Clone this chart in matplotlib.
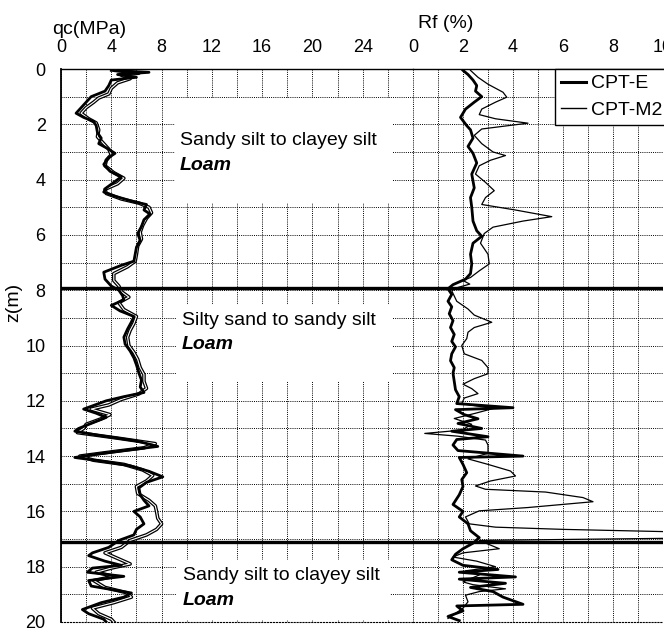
import matplotlib
matplotlib.use('Agg')
import matplotlib.pyplot as plt
import matplotlib.patheffects as pe
from matplotlib.patches import Rectangle
from matplotlib.lines import Line2D
import numpy as np

plt.rcParams['font.family'] = ['Liberation Sans', 'DejaVu Sans']

# cone resistance qc (MPa) vs depth z (m)
qc_e_z = [0.05, 0.12, 0.2, 0.3, 0.4, 0.6, 0.8, 1.0, 1.2, 1.45, 1.6, 1.75, 1.9, 2.05, 2.3, 2.5, 2.7,
          2.85, 3.05, 3.2, 3.45, 3.7, 3.9, 4.1, 4.3, 4.45, 4.6, 4.8, 4.9, 5.1, 5.25, 5.45, 5.7, 5.95,
          6.2, 6.45, 6.7, 6.95, 7.1, 7.35, 7.6, 7.85, 8.0, 8.2, 8.35, 8.55, 8.75, 8.95, 9.15, 9.4,
          9.7, 9.95, 10.2, 10.45, 10.7, 11.0, 11.25, 11.5, 11.7, 11.85, 12.0, 12.3, 12.45, 12.6,
          12.8, 13.0, 13.1, 13.25, 13.45, 13.65, 13.8, 13.95, 14.05, 14.2, 14.35, 14.55, 14.75,
          14.95, 15.15, 15.4, 15.6, 15.8, 16.0, 16.2, 16.45, 16.65, 16.85, 17.05, 17.3, 17.5, 17.6,
          17.8, 17.95, 18.05, 18.2, 18.35, 18.5, 18.7, 18.95, 19.1, 19.3, 19.55, 19.7, 19.9, 20.0]
qc_e = [4.0, 7.0, 4.5, 6.0, 4.0, 3.8, 3.5, 2.4, 2.0, 1.5, 1.2, 1.8, 2.6, 2.8, 2.9, 3.2, 3.0,
        3.6, 4.3, 3.8, 3.4, 3.9, 4.8, 4.2, 3.6, 3.4, 4.3, 5.8, 6.8, 6.6, 7.1, 6.6, 6.4, 6.1,
        6.3, 6.0, 5.9, 5.8, 4.8, 3.4, 3.5, 4.0, 4.6, 4.9, 5.0, 4.0, 4.7, 5.8, 5.6, 5.3,
        5.0, 5.1, 5.5, 5.8, 6.0, 6.2, 6.4, 6.3, 6.6, 5.0, 3.6, 1.8, 2.8, 3.6,
        2.5, 1.4, 1.1, 3.0, 6.0, 7.7, 5.0, 2.5, 1.1, 3.5, 5.5, 7.0, 8.1,
        6.8, 6.2, 6.3, 6.6, 7.0, 5.8, 6.3, 6.6, 6.0, 5.8, 4.6, 3.8, 2.5, 2.2,
        3.5, 4.8, 2.5, 2.1, 5.0, 2.2, 2.4, 5.6, 5.0, 3.2, 1.7, 2.2, 3.4, 3.6]

qc_m2_z = [0.05, 0.15, 0.22, 0.35, 0.5, 0.7, 0.9, 1.05, 1.2, 1.4, 1.6, 1.8, 1.95, 2.2, 2.45, 2.65,
           2.9, 3.1, 3.3, 3.5, 3.75, 3.95, 4.15, 4.35, 4.5, 4.7, 4.85, 5.0, 5.2, 5.4, 5.65, 5.9,
           6.15, 6.4, 6.7, 6.95, 7.15, 7.4, 7.65, 7.85, 8.05, 8.25, 8.45, 8.7, 8.95, 9.2, 9.45,
           9.7, 10.0, 10.25, 10.5, 10.8, 11.05, 11.3, 11.55, 11.75, 11.95, 12.15, 12.3, 12.5,
           12.65, 12.85, 13.0, 13.15, 13.35, 13.55, 13.7, 13.85, 14.0, 14.15, 14.3, 14.5, 14.7,
           14.9, 15.1, 15.35, 15.6, 15.8, 16.0, 16.25, 16.45, 16.65, 16.85, 17.05, 17.3, 17.5,
           17.7, 17.9, 18.05, 18.2, 18.35, 18.5, 18.75, 18.95, 19.1, 19.3, 19.5, 19.7, 19.9, 20.0]
qc_m2 = [4.3, 6.2, 4.8, 5.5, 4.5, 4.0, 3.8, 3.0, 2.6, 2.0, 1.6, 2.2, 2.8, 3.0, 2.9, 3.3,
         3.8, 4.0, 3.6, 3.5, 4.2, 5.0, 4.5, 3.5, 3.6, 4.8, 6.2, 7.0, 7.2, 6.8, 6.5, 6.3,
         6.4, 6.1, 6.0, 5.9, 5.3, 4.2, 4.2, 4.6, 4.8, 5.4, 4.6, 5.0, 6.0, 5.8, 5.5,
         5.3, 5.4, 5.8, 6.1, 6.3, 6.6, 6.6, 6.8, 6.2, 4.8, 3.8, 2.4, 3.9,
         3.2, 2.0, 1.8, 1.3, 4.5, 7.5, 6.6, 4.0, 1.5, 2.6, 5.0, 6.5, 7.3,
         6.8, 6.0, 6.1, 7.0, 7.5, 7.6, 7.7, 8.0, 7.6, 6.8, 5.5, 4.8, 3.5,
         4.5, 5.5, 4.0, 2.8, 4.2, 2.6, 3.5, 5.3, 5.6, 4.2, 2.5, 3.0, 4.0, 4.2]

# friction ratio Rf (%) vs depth z (m)
rf_e_z = [0.05, 0.2, 0.4, 0.6, 0.8, 1.0, 1.2, 1.45, 1.75, 2.05, 2.2, 2.5, 2.8, 3.05, 3.4, 3.8,
          4.3, 4.65, 5.0, 5.5, 5.85, 6.05, 6.3, 6.7, 7.05, 7.4, 7.6, 7.8, 7.95, 8.15, 8.4, 8.6,
          8.85, 9.1, 9.35, 9.6, 9.85, 10.05, 10.3, 10.55, 10.8, 11.0, 11.3, 11.6, 11.85, 12.1,
          12.25, 12.32, 12.5, 12.65, 12.82, 13.0, 13.1, 13.3, 13.4, 13.6, 13.8, 14.0, 14.05,
          14.3, 14.6, 14.85, 15.1, 15.4, 15.75, 16.0, 16.2, 16.45, 16.7, 16.95, 17.15, 17.35,
          17.55, 17.75, 17.95, 18.1, 18.2, 18.37, 18.45, 18.6, 18.75, 18.9, 19.1, 19.36, 19.42,
          19.6, 19.8, 19.95]
rf_e = [2.0, 2.2, 2.4, 2.55, 2.5, 2.75, 2.45, 2.1, 1.9, 2.15, 2.3, 2.4, 2.2, 2.4, 2.55, 2.35,
        2.45, 2.3, 2.35, 2.4, 2.55, 2.75, 2.4, 2.3, 2.35, 2.3, 2.1, 1.6, 1.4, 1.55, 1.4, 1.55,
        1.45, 1.6, 1.5, 1.65, 1.55, 1.7, 1.55, 1.5, 1.65, 1.6, 1.65, 1.7, 1.85, 1.75,
        4.0, 1.7, 2.05, 2.6, 1.8, 2.75, 1.55, 3.0, 1.75, 1.6, 1.8, 4.4, 1.85,
        2.0, 2.15, 1.95, 2.0, 1.85, 1.6, 2.0, 1.85, 2.2, 2.3, 2.65, 2.4, 2.0,
        1.7, 1.55, 2.0, 3.4, 1.85, 4.1, 1.85, 3.7, 2.3, 3.2, 3.6, 4.4, 1.75,
        2.0, 1.4, 1.85]

rf_m2_z = [0.05, 0.3, 0.55, 0.84, 1.02, 1.2, 1.45, 1.65, 1.8, 1.96, 2.05, 2.17, 2.4, 2.7, 3.0,
           3.13, 3.3, 3.5, 3.8, 4.1, 4.4, 4.65, 4.9, 5.1, 5.34, 5.5, 5.72, 5.95, 6.3, 6.7, 7.05,
           7.3, 7.54, 7.65, 7.78, 7.9, 8.02, 8.4, 8.68, 8.9, 9.16, 9.35, 9.52, 9.75, 10.0, 10.3,
           10.54, 10.8, 11.02, 11.2, 11.4, 11.56, 11.74, 11.9, 12.1, 12.28, 12.45, 12.64, 12.85,
           13.06, 13.18, 13.28, 13.42, 13.6, 13.9, 14.1, 14.3, 14.54, 14.72, 14.9, 15.08, 15.2,
           15.3, 15.5, 15.65, 15.86, 15.98, 16.2, 16.45, 16.57, 16.65, 16.74, 16.97, 17.05,
           17.35, 17.5, 17.65, 17.8, 18.0, 18.15, 18.3, 18.55, 18.65, 18.8, 18.9, 19.03, 19.27,
           19.5, 19.75, 19.87]
rf_m2 = [2.3, 2.6, 3.0, 3.6, 3.75, 3.3, 2.75, 2.65, 3.3, 4.6, 3.8, 2.75, 2.45, 2.75, 3.2,
         3.7, 3.1, 2.65, 2.5, 2.9, 3.25, 2.9, 2.75, 4.1, 5.55, 4.4, 3.2, 2.85, 2.7, 3.0, 3.05,
         2.65, 2.3, 2.0, 2.27, 1.8, 1.55, 1.75, 2.2, 2.45, 3.15, 2.45, 2.2, 2.15, 1.95, 2.05,
         2.75, 3.0, 3.0, 2.45, 2.0, 2.35, 2.6, 2.05, 1.95, 3.2, 2.5, 1.65, 2.35,
         1.95, 0.47, 1.8, 2.9, 3.0, 3.0, 2.2, 3.0, 3.9, 4.1, 3.1, 2.5, 2.9,
         5.3, 6.8, 7.2, 4.6, 2.65, 2.1, 2.25, 3.3, 6.0, 10.5, 10.5, 2.65,
         3.45, 2.0, 1.6, 2.55, 3.3, 2.1, 2.65, 2.0, 2.4, 3.7, 2.65, 2.1, 2.2,
         2.0, 1.6, 1.4]

# soil layer boundaries (m)
layer_z = [7.93, 17.12]

fig = plt.figure(figsize=(6.64, 6.33), dpi=100)
ax1 = fig.add_axes([61/664, 11/633, 352/664, 553/633])
ax2 = fig.add_axes([413/664, 11/633, 250/664, 553/633], sharey=ax1)

grid_ls = (0, (1, 1.2))
for ax in (ax1, ax2):
    ax.set_axisbelow(True)
    ax.grid(which='both', ls=grid_ls, color='k', lw=0.7)
    ax.tick_params(which='both', top=True, bottom=False, labeltop=True, labelbottom=False,
                   left=False, right=False, length=0, pad=9, labelsize=13)
    ax.spines['top'].set_linewidth(1.0)
    ax.spines['bottom'].set_linestyle(':')
    ax.spines['bottom'].set_linewidth(0.8)
    ax.spines['right'].set_visible(False)

ax1.set_xlim(0, 28)
ax1.set_xticks(np.arange(0, 25, 4))
ax1.set_xticks(np.arange(0, 29, 2), minor=True)
ax1.set_ylim(20, 0)
ax1.set_yticks(np.arange(0, 21, 2))
ax1.set_yticks(np.arange(0, 21, 1), minor=True)
ax1.tick_params(axis='y', labelleft=True, pad=11)
ax1.spines['left'].set_linewidth(1.3)

ax2.set_xlim(0, 10)
ax2.set_xticks(np.arange(0, 11, 2))
ax2.set_xticks(np.arange(0, 11, 1), minor=True)
ax2.tick_params(axis='y', labelleft=False)
ax2.spines['left'].set_visible(False)

# qc profiles
ax1.plot(qc_m2, qc_m2_z, color='white', lw=0.8, zorder=3,
         path_effects=[pe.Stroke(linewidth=2.6, foreground='k'), pe.Normal()])
ax1.plot(qc_e, qc_e_z, color='k', lw=2.0, zorder=3)

# Rf profiles
ax2.plot(rf_e, rf_e_z, color='k', lw=2.0, zorder=3)
ax2.plot(rf_m2, rf_m2_z, color='k', lw=0.9, zorder=3)

for z in layer_z:
    ax1.axhline(z, color='k', lw=2.4, zorder=4)
    ax2.axhline(z, color='k', lw=2.4, zorder=4)

# white boxes behind layer descriptions
for (x0, z0, x1, z1) in [(9.1, 1.05, 26.4, 4.85), (9.2, 8.55, 26.4, 11.3), (9.2, 17.75, 26.2, 19.93)]:
    ax1.add_patch(Rectangle((x0, z0), x1 - x0, z1 - z0, facecolor='white',
                            edgecolor='none', zorder=2))

for (x, z, name) in [(9.47, 2.6, 'Sandy silt to clayey silt'),
                     (9.6, 9.1, 'Silty sand to sandy silt'),
                     (9.7, 18.33, 'Sandy silt to clayey silt')]:
    ax1.text(x, z, name, fontsize=14, ha='left', va='center', zorder=5)
    ax1.text(x, z + 0.88, 'Loam', fontsize=14, fontweight='bold', style='italic',
             ha='left', va='center', zorder=5)

fig.text(52/664, 1 - 29/633, 'qc(MPa)', fontsize=14, ha='left', va='center')
fig.text(418/664, 1 - 23/633, 'Rf (%)', fontsize=14, ha='left', va='center')
fig.text(14/664, 1 - 302/633, 'z(m)', fontsize=14, rotation=90, ha='center', va='center')

handles = [Line2D([], [], color='k', lw=2.2), Line2D([], [], color='k', lw=1.0)]
leg = ax2.legend(handles, ['CPT-E', 'CPT-M2'], loc='upper left',
                 bbox_to_anchor=((555 - 413) / 250, 1.0), frameon=True, fancybox=False,
                 edgecolor='k', framealpha=1, borderaxespad=0, handlelength=1.3,
                 handletextpad=0.25, fontsize=14, borderpad=0.3, labelspacing=0.45)
leg.get_frame().set_linewidth(1.0)
leg.set_zorder(6)

fig.savefig('out.png', dpi=100)
